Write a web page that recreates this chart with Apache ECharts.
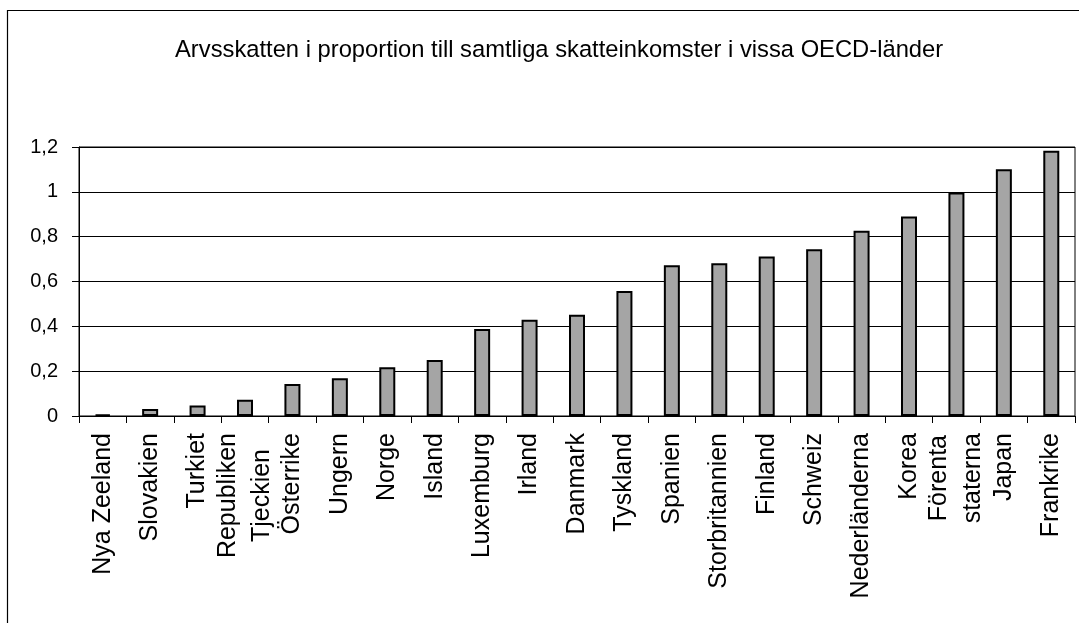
<!DOCTYPE html>
<html>
<head>
<meta charset="utf-8">
<script src="https://cdn.jsdelivr.net/npm/echarts@6/dist/echarts.min.js"></script>
<style>
html,body{margin:0;padding:0;background:#fff;}
#chart{width:1079px;height:623px;}
</style>
</head>
<body>
<div id="chart"></div>
<script>
const titleText = 'Arvsskatten i proportion till samtliga skatteinkomster i vissa OECD-länder';
const categories = ['Nya Zeeland','Slovakien','Turkiet','Republiken\nTjeckien','Österrike','Ungern','Norge','Island','Luxemburg','Irland','Danmark','Tyskland','Spanien','Storbritannien','Finland','Schweiz','Nederländerna','Korea','Förenta\nstaterna','Japan','Frankrike'];
const values = [0.007,0.031,0.047,0.073,0.143,0.168,0.217,0.25,0.388,0.429,0.452,0.558,0.672,0.681,0.712,0.744,0.826,0.89,0.997,1.101,1.183];
const yMin = 0, yMax = 1.2, yStep = 0.2;

const FONT = '"Liberation Sans", Arial, sans-serif';
const LABEL_SIZE = 25;

// centre the lines of a two-line label against each other (labels are right-aligned by default)
const measureCtx = document.createElement('canvas').getContext('2d');
measureCtx.font = LABEL_SIZE + 'px ' + FONT;
const richStyles = {};
let richCount = 0;
function formatLabel(v) {
  if (v.indexOf('\n') < 0) return v;
  const lines = v.split('\n');
  const widths = lines.map(s => measureCtx.measureText(s).width);
  const maxW = Math.max.apply(null, widths);
  return lines.map((s, i) => {
    const key = 'l' + (richCount++);
    richStyles[key] = {fontFamily: FONT, fontSize: LABEL_SIZE, color: '#000', lineHeight: 34,
      padding: [0, Math.round((maxW - widths[i]) / 2), 0, 0]};
    return '{' + key + '|' + s + '}';
  }).join('\n');
}
const labelMap = {};
categories.forEach(c => { labelMap[c] = formatLabel(c); });

const chart = echarts.init(document.getElementById('chart'), null, {renderer: 'canvas'});
chart.setOption({
  animation: false,
  backgroundColor: '#fff',
  title: {
    text: titleText,
    left: 170,
    top: 33,
    textStyle: {fontFamily: FONT, fontSize: 23.75, fontWeight: 'normal', color: '#000'}
  },
  graphic: [{
    type: 'rect',
    shape: {x: 7.5, y: 10.5, width: 1300, height: 900},
    style: {fill: 'none', stroke: '#000', lineWidth: 1.2},
    silent: true
  }],
  grid: {left: 79, right: 4, top: 147, bottom: 207, show: true, borderColor: '#000', borderWidth: 1, backgroundColor: 'transparent'},
  xAxis: {
    type: 'category',
    data: categories,
    axisLine: {lineStyle: {color: '#000', width: 1}},
    axisTick: {show: true, length: 7, lineStyle: {color: '#000'}},
    axisLabel: {
      interval: 0,
      rotate: 90,
      margin: 17,
      fontFamily: FONT,
      fontSize: LABEL_SIZE,
      color: '#000',
      formatter: v => labelMap[v] || v,
      rich: richStyles
    }
  },
  yAxis: {
    type: 'value',
    min: yMin,
    max: yMax,
    interval: yStep,
    axisLine: {show: true, lineStyle: {color: '#000', width: 1}},
    axisTick: {show: true, length: 7, lineStyle: {color: '#000'}},
    splitLine: {show: true, lineStyle: {color: '#000', width: 1}},
    axisLabel: {
      margin: 21,
      fontFamily: FONT,
      fontSize: 20,
      color: '#000',
      formatter: v => (Math.round(v * 10) / 10).toString().replace('.', ',')
    }
  },
  series: [{
    type: 'bar',
    data: values,
    barWidth: 16,
    itemStyle: {color: '#a5a5a5', borderColor: '#000', borderWidth: 2}
  }]
});
</script>
</body>
</html>
